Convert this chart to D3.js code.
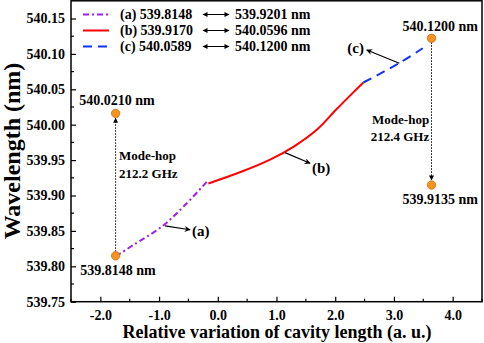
<!DOCTYPE html>
<html lang="en">
<head>
    <meta charset="UTF-8">
    <title>Mode-hop wavelength</title>
    <script src="https://d3js.org/d3.v7.min.js" charset="utf-8"></script>
    <style>
        body { margin: 0; background: #fff; }
        svg { display: block; font-family: 'Liberation Serif', 'Times New Roman', serif; font-weight: bold; }
    </style>
</head>
<body>
    <div id="chart"></div>
    <script>
        // series (a), (b), (c): relative cavity length vs wavelength
        var aX = [-1.74, -1.665, -1.44, -0.955, -0.587, -0.18];
        var aY = [539.8148, 539.818, 539.830, 539.856, 539.884, 539.9201];
        var bX = [-0.16, 0.4, 0.9, 1.3, 1.7, 2.0, 2.3, 2.48];
        var bY = [539.9170, 539.9335, 539.951, 539.9695, 539.994, 540.020, 540.045, 540.0596];
        var cX = [2.48, 3.09, 3.49];
        var cY = [540.0596, 540.087, 540.108];

        // mode-hop end points (orange dots)
        var hopX = [-1.74, -1.74, 3.64, 3.64];
        var hopY = [539.8148, 540.016, 540.122, 539.9148];
        var hopLabels = ['539.8148 nm', '540.0210 nm', '540.1200 nm', '539.9135 nm'];

        var legendNames = ['(a) 539.8148', '(b) 539.9170', '(c) 540.0589'];
        var legendEnds = ['539.9201 nm', '540.0596 nm', '540.1200 nm'];

        var xTicks = [-2, -1, 0, 1, 2, 3, 4];
        var yTicks = [539.75, 539.80, 539.85, 539.90, 539.95, 540.00, 540.05, 540.10, 540.15];

        var svgWidth = 484, svgHeight = 343;
        var plotLeft = 71, plotTop = 0.8, plotRight = 482, plotBottom = 301.7;

        var svg = d3.select('#chart').append('svg')
            .attr('width', svgWidth)
            .attr('height', svgHeight);

        var defs = svg.append('defs');
        defs.append('marker')
            .attr('id', 'head')
            .attr('viewBox', '0 0 10 10')
            .attr('refX', 9).attr('refY', 5)
            .attr('markerWidth', 9).attr('markerHeight', 6)
            .attr('markerUnits', 'userSpaceOnUse')
            .attr('orient', 'auto-start-reverse')
            .append('path').attr('d', 'M0,0L10,5L0,10L3,5z').attr('fill', '#000');
        defs.append('marker')
            .attr('id', 'small')
            .attr('viewBox', '0 0 10 10')
            .attr('refX', 9).attr('refY', 5)
            .attr('markerWidth', 6).attr('markerHeight', 5)
            .attr('markerUnits', 'userSpaceOnUse')
            .attr('orient', 'auto-start-reverse')
            .append('path').attr('d', 'M0,0L10,5L0,10z').attr('fill', '#000');

        var x = d3.scaleLinear().domain([-2.5, 4.5]).range([plotLeft, plotRight]);
        var y = d3.scaleLinear().domain([539.75, 540.175]).range([plotBottom, plotTop]);

        // axes with inward ticks
        var xAxis = d3.axisBottom(x).tickValues(xTicks)
            .tickSizeInner(-5).tickSizeOuter(0).tickPadding(8)
            .tickFormat(d => d.toFixed(1));
        var yAxis = d3.axisLeft(y).tickValues(yTicks)
            .tickSizeInner(-5).tickSizeOuter(0).tickPadding(6)
            .tickFormat(d => d.toFixed(2));

        var gx = svg.append('g').attr('transform', 'translate(0,' + plotBottom + ')').call(xAxis);
        var gy = svg.append('g').attr('transform', 'translate(' + plotLeft + ',0)').call(yAxis);
        [gx, gy].forEach(g => {
            g.attr('font-family', null);
            g.select('.domain').remove();
            g.selectAll('text').attr('font-size', 14).attr('fill', '#000');
            g.selectAll('line').attr('stroke-width', 1.2);
        });

        // minor ticks
        svg.append('g').selectAll('line')
            .data(d3.range(-2.5, 4.51, 1))
            .enter().append('line')
            .attr('x1', d => x(d)).attr('x2', d => x(d))
            .attr('y1', plotBottom).attr('y2', plotBottom - 3)
            .attr('stroke', '#000').attr('stroke-width', 1.2);
        svg.append('g').selectAll('line')
            .data(d3.range(539.775, 540.175, 0.05))
            .enter().append('line')
            .attr('x1', plotLeft).attr('x2', plotLeft + 3)
            .attr('y1', d => y(d)).attr('y2', d => y(d))
            .attr('stroke', '#000').attr('stroke-width', 1.2);

        // frame
        svg.append('rect')
            .attr('x', plotLeft).attr('y', plotTop)
            .attr('width', plotRight - plotLeft).attr('height', plotBottom - plotTop)
            .attr('fill', 'none').attr('stroke', '#000').attr('stroke-width', 1.5);

        // series lines
        var line = d3.line().x(d => x(d[0])).y(d => y(d[1])).curve(d3.curveCatmullRom.alpha(0.5));
        var series = [
            { xs: aX, ys: aY, color: '#a020f0', dash: '6,3,2,3' },
            { xs: bX, ys: bY, color: '#ff0000', dash: null },
            { xs: cX, ys: cY, color: '#1030ff', dash: '9,6' }
        ];
        series.forEach(s => {
            svg.append('path')
                .datum(d3.zip(s.xs, s.ys))
                .attr('d', line)
                .attr('fill', 'none')
                .attr('stroke', s.color)
                .attr('stroke-width', 2)
                .attr('stroke-dasharray', s.dash);
        });

        // dotted mode-hop arrows
        svg.append('line')
            .attr('x1', x(hopX[0])).attr('y1', y(hopY[0]) - 4)
            .attr('x2', x(hopX[1])).attr('y2', y(hopY[1]) + 5)
            .attr('stroke', '#000').attr('stroke-dasharray', '1.5,1.5')
            .attr('marker-end', 'url(#small)');
        svg.append('line')
            .attr('x1', x(hopX[2])).attr('y1', y(hopY[2]) + 4)
            .attr('x2', x(hopX[3])).attr('y2', y(hopY[3]) - 5)
            .attr('stroke', '#000').attr('stroke-dasharray', '1.5,1.5')
            .attr('marker-end', 'url(#small)');

        // orange end points
        svg.append('g').selectAll('circle')
            .data(d3.zip(hopX, hopY))
            .enter().append('circle')
            .attr('cx', d => x(d[0])).attr('cy', d => y(d[1]))
            .attr('r', 4.2)
            .attr('fill', '#f7931e').attr('stroke', '#c96f12').attr('stroke-width', 0.8);

        // point labels
        var labelX = [-1.70, -1.716, 3.79, 3.79];
        var labelY = [539.7877, 540.0278, 540.1323, 539.888];
        svg.append('g').selectAll('text')
            .data(hopLabels)
            .enter().append('text')
            .attr('x', (d, i) => x(labelX[i]))
            .attr('y', (d, i) => y(labelY[i]))
            .attr('text-anchor', 'middle')
            .attr('font-size', 14)
            .text(d => d);

        // mode-hop texts
        var hopText = [
            { t: 'Mode-hop', x: -1.682, y: 539.950, a: 'start' },
            { t: '212.2 GHz', x: -1.682, y: 539.9247, a: 'start' },
            { t: 'Mode-hop', x: 3.60, y: 540.001, a: 'end' },
            { t: '212.4 GHz', x: 3.60, y: 539.977, a: 'end' }
        ];
        svg.append('g').selectAll('text')
            .data(hopText)
            .enter().append('text')
            .attr('x', d => x(d.x)).attr('y', d => y(d.y))
            .attr('text-anchor', d => d.a)
            .attr('font-size', 13)
            .text(d => d.t);

        // curve callouts
        var callouts = [
            { t: '(a)', x1: -0.90, y1: 539.857, x2: -0.473, y2: 539.8516, tx: -0.44, ty: 539.843, a: 'start' },
            { t: '(b)', x1: 1.145, y1: 539.9605, x2: 1.571, y2: 539.9455, tx: 1.605, ty: 539.932, a: 'start' },
            { t: '(c)', x1: 3.092, y1: 540.0867, x2: 2.537, y2: 540.1055, tx: 2.49, ty: 540.101, a: 'end' }
        ];
        callouts.forEach(c => {
            svg.append('line')
                .attr('x1', x(c.x1)).attr('y1', y(c.y1))
                .attr('x2', x(c.x2)).attr('y2', y(c.y2))
                .attr('stroke', '#000').attr('stroke-width', 1.2)
                .attr('marker-end', 'url(#head)');
            svg.append('text')
                .attr('x', x(c.tx)).attr('y', y(c.ty))
                .attr('text-anchor', c.a)
                .attr('font-size', 15)
                .text(c.t);
        });

        // legend
        var legend = svg.append('g');
        var rowY = [14.5, 30.5, 46.5];
        legendNames.forEach((name, i) => {
            legend.append('line')
                .attr('x1', 83).attr('x2', 109)
                .attr('y1', rowY[i]).attr('y2', rowY[i])
                .attr('stroke', series[i].color).attr('stroke-width', 2)
                .attr('stroke-dasharray', series[i].dash);
            legend.append('text')
                .attr('x', 120).attr('y', rowY[i]).attr('dy', '0.35em')
                .attr('font-size', 14).text(name);
            legend.append('line')
                .attr('x1', 203).attr('x2', 229)
                .attr('y1', rowY[i]).attr('y2', rowY[i])
                .attr('stroke', '#000').attr('stroke-width', 1)
                .attr('marker-start', 'url(#small)').attr('marker-end', 'url(#small)');
            legend.append('text')
                .attr('x', 235).attr('y', rowY[i]).attr('dy', '0.35em')
                .attr('font-size', 14).text(legendEnds[i]);
        });

        // axis titles
        svg.append('text')
            .attr('x', 277).attr('y', 338)
            .attr('text-anchor', 'middle')
            .attr('font-size', 18)
            .text('Relative variation of cavity length (a. u.)');
        svg.append('text')
            .attr('transform', 'translate(20,' + 151 + ') rotate(-90)')
            .attr('text-anchor', 'middle')
            .attr('font-size', 24)
            .text('Wavelength (nm)');
    </script>
</body>
</html>
